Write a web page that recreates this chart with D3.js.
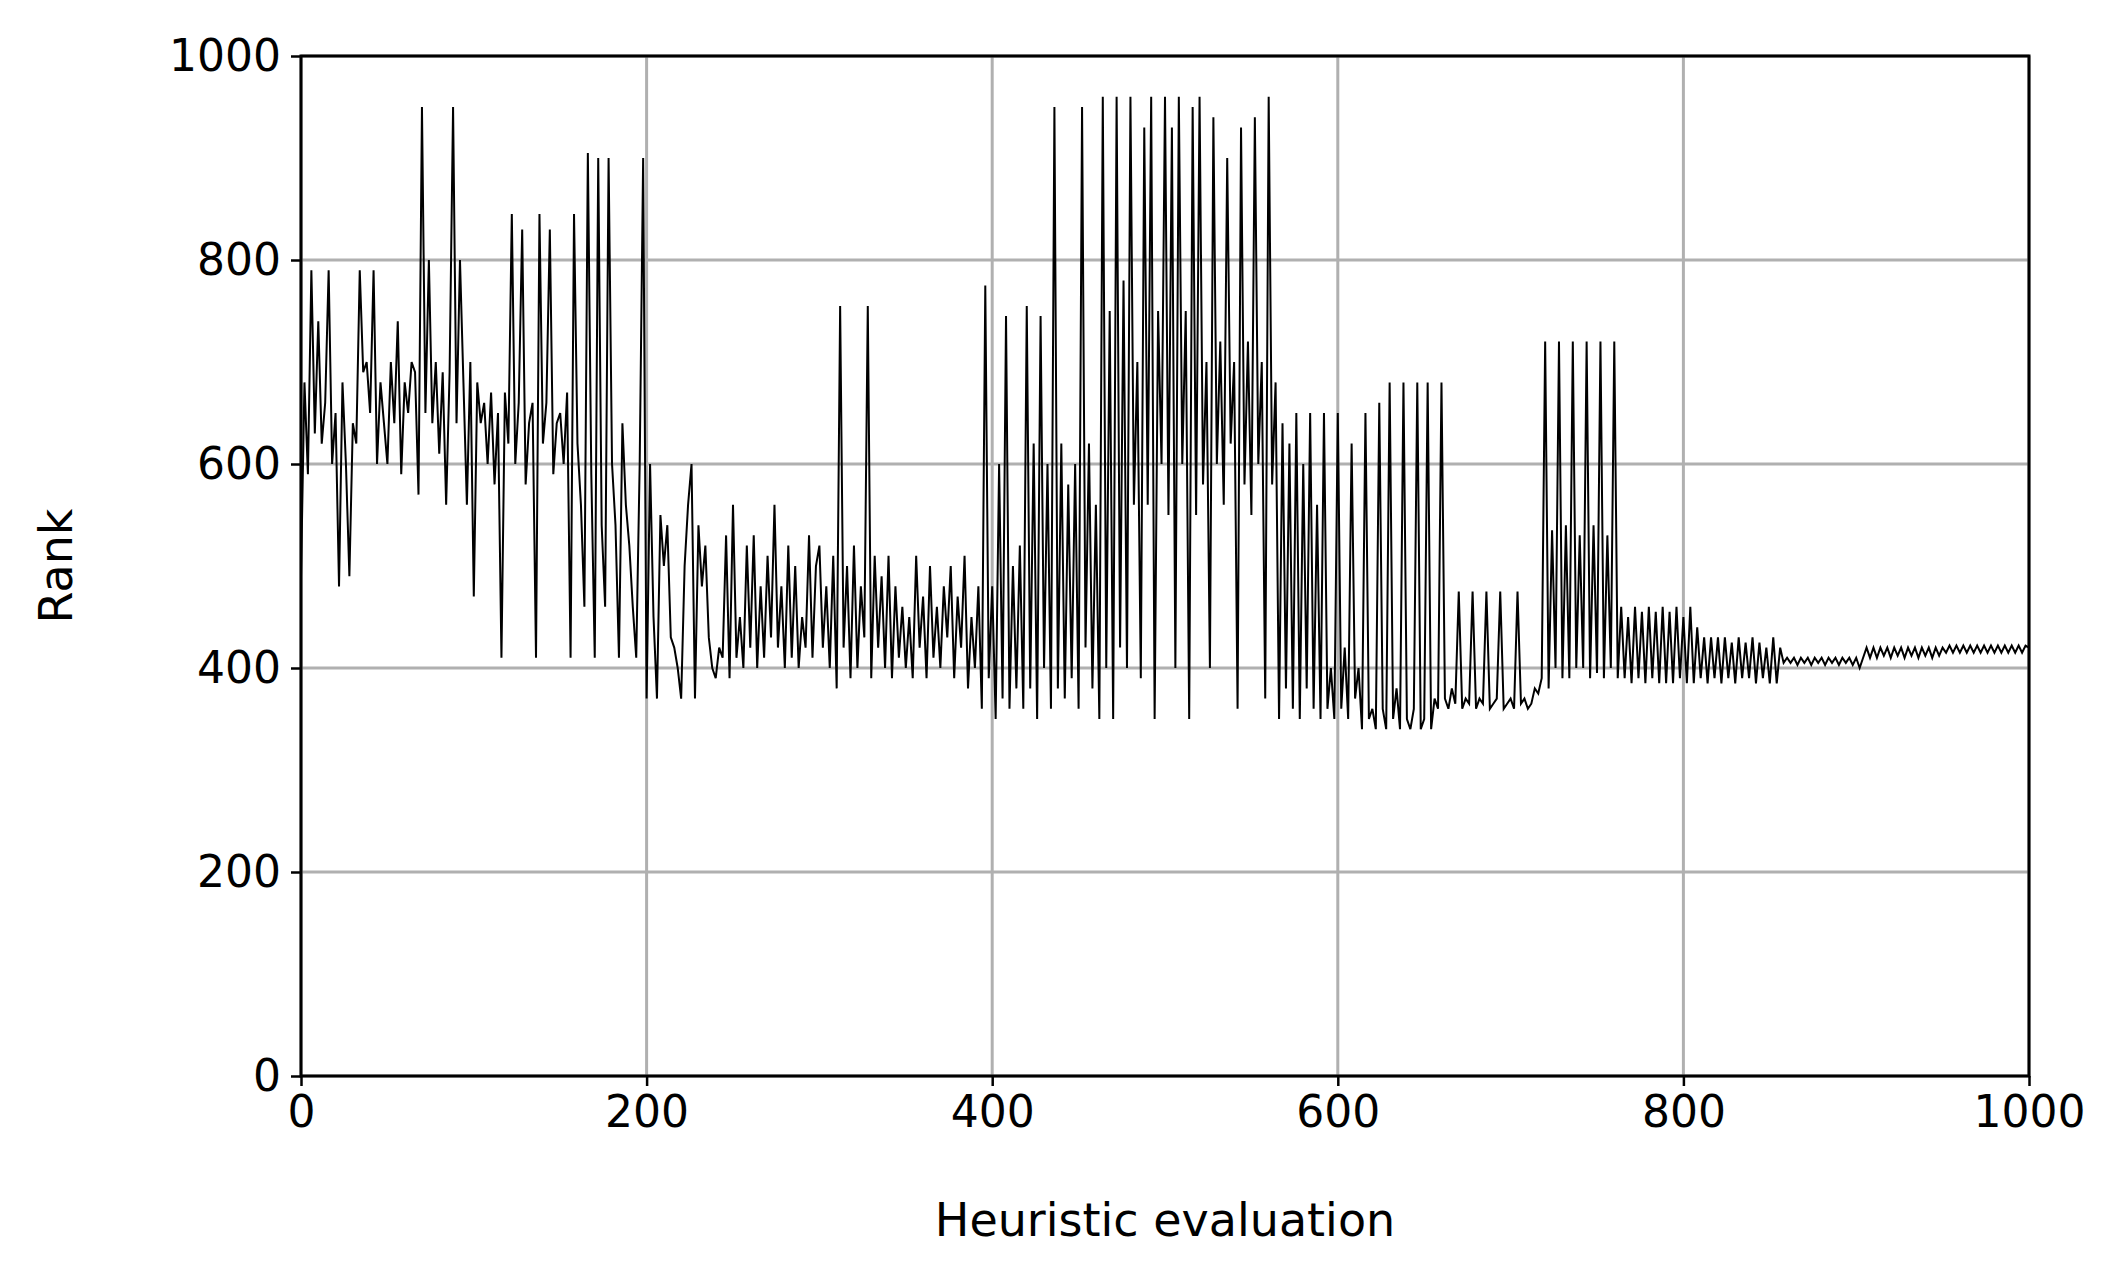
<!DOCTYPE html>
<html><head><meta charset="utf-8">
<script src="https://cdn.jsdelivr.net/npm/d3@7"></script>
<style>body{margin:0;background:#fff}text{font-family:"DejaVu Sans",sans-serif}</style>
</head><body><svg id="c" width="2125" height="1275"></svg>
<script>
// rank sampled every 2 evaluations
var rank = [
490,680,590,790,630,740,620,660,790,600,650,480,680,600,490,640,620,790,690,700,650,790,600,680,640,
600,700,640,740,590,680,650,700,690,570,950,650,800,640,700,610,690,560,690,950,640,800,680,560,700,
470,680,640,660,600,670,580,650,410,670,620,845,600,660,830,580,640,660,410,845,620,660,830,590,640,
650,600,670,410,845,620,560,460,905,590,410,900,540,460,900,600,540,410,640,560,520,460,410,600,900,
370,600,450,370,550,500,540,430,420,400,370,500,560,600,370,540,480,520,430,400,390,420,410,530,390,
560,410,450,400,520,420,530,400,480,410,510,430,560,420,480,400,520,410,500,400,450,420,530,410,500,
520,420,480,400,510,380,755,420,500,390,520,400,480,430,755,390,510,420,490,400,510,390,480,410,460,
400,450,390,510,420,470,390,500,410,460,400,480,430,500,390,470,420,510,380,450,400,480,360,775,390,
480,350,600,370,745,360,500,380,520,360,755,380,620,350,745,400,600,360,950,380,620,370,580,390,600,
360,950,420,620,380,560,350,960,400,750,350,960,420,780,400,960,560,700,390,930,560,960,350,750,600,
960,550,930,400,960,600,750,350,950,550,960,580,700,400,940,600,720,560,900,620,700,360,930,580,720,
550,940,600,700,370,960,580,680,350,640,380,620,360,650,350,600,380,650,360,560,350,650,360,400,350,
650,360,420,350,620,370,400,340,650,350,360,340,660,360,340,680,350,380,340,680,350,340,360,680,340,
350,680,340,370,360,680,370,360,380,365,475,360,370,365,475,360,370,365,475,360,365,370,475,360,365,
370,360,475,365,370,360,365,380,375,390,720,380,535,400,720,390,540,390,720,400,530,400,720,390,540,
395,720,390,530,400,720,390,460,390,450,385,460,390,455,385,460,390,455,385,460,385,455,385,460,390,
450,385,460,385,440,390,430,385,430,390,430,385,430,390,425,385,430,390,425,390,430,385,425,390,420,
385,430,385,420,405,410,405,410,403,410,405,410,403,410,405,410,403,410,405,410,403,410,405,410,403,
410,400,410,420,410,420,410,420,412,420,410,420,412,420,410,420,412,420,410,420,412,420,410,420,412,
420,415,422,415,422,415,422,415,422,415,422,415,422,415,422,415,422,415,422,415,422,415,422,415,422,
420];
var xTicks = [0, 200, 400, 600, 800, 1000];
var yTicks = [0, 200, 400, 600, 800, 1000];

var L = 301, R = 2029, T = 56, B = 1076;
var svg = d3.select("#c");
var x = d3.scaleLinear().domain([0, 1000]).range([L, R]);
var y = d3.scaleLinear().domain([0, 1000]).range([B, T]);

// grid
svg.append("g").selectAll("line").data(xTicks).enter().append("line")
  .attr("x1", d => x(d)).attr("x2", d => x(d)).attr("y1", T).attr("y2", B)
  .attr("stroke", "#b0b0b0").attr("stroke-width", 3);
svg.append("g").selectAll("line").data(yTicks).enter().append("line")
  .attr("y1", d => y(d)).attr("y2", d => y(d)).attr("x1", L).attr("x2", R)
  .attr("stroke", "#b0b0b0").attr("stroke-width", 3);

var line = d3.line().x((d, i) => x(i * 2)).y(d => y(d));
svg.append("path").datum(rank).attr("d", line)
  .attr("fill", "none").attr("stroke", "#000").attr("stroke-width", 2);

var xa = svg.append("g").attr("transform", "translate(0," + B + ")")
  .call(d3.axisBottom(x).tickValues(xTicks).tickFormat(d3.format("d")).tickSize(10).tickPadding(10));
var ya = svg.append("g").attr("transform", "translate(" + L + ",0)")
  .call(d3.axisLeft(y).tickValues(yTicks).tickFormat(d3.format("d")).tickSize(10).tickPadding(10));
[xa, ya].forEach(function (a) {
  a.select(".domain").remove();
  a.selectAll("line").attr("stroke-width", 2.5);
  a.selectAll("text").attr("font-size", 44).attr("fill", "#000")
    .style("font-family", "DejaVu Sans");
});

svg.append("rect").attr("x", L).attr("y", T).attr("width", R - L).attr("height", B - T)
  .attr("fill", "none").attr("stroke", "#000").attr("stroke-width", 3);

svg.append("text").attr("x", (L + R) / 2).attr("y", 1236).attr("text-anchor", "middle")
  .attr("font-size", 46).text("Heuristic evaluation");
svg.append("text").attr("transform", "translate(72," + (T + B) / 2 + ") rotate(-90)")
  .attr("text-anchor", "middle").attr("font-size", 46).text("Rank");
</script></body></html>
